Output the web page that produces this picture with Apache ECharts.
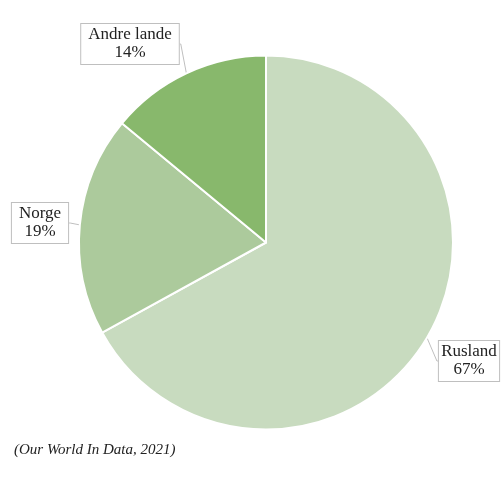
<!DOCTYPE html>
<html>
<head>
<meta charset="utf-8">
<script src="https://cdn.jsdelivr.net/npm/echarts@6/dist/echarts.min.js"></script>
<style>
html,body{margin:0;padding:0;background:#fff;}
#chart{width:504px;height:487px;}
</style>
</head>
<body>
<div id="chart"></div>
<script>
var categories = ['Rusland', 'Norge', 'Andre lande'];
var values = [67, 19, 14];
var colors = ['#c8dbbf', '#acca9c', '#88b86c'];
var sourceText = '(Our World In Data, 2021)';

var labelPos = [
  {x: 469, y: 361},
  {x: 40, y: 223},
  {x: 130, y: 44}
];

var chart = echarts.init(document.getElementById('chart'));
chart.setOption({
  animation: false,
  graphic: [{
    type: 'text',
    left: 14,
    top: 443,
    style: {
      text: sourceText,
      font: 'italic 15px "Liberation Serif"',
      fill: '#222'
    }
  }],
  series: [{
    type: 'pie',
    center: [266, 242.5],
    radius: [0, 187],
    startAngle: 90,
    clockwise: true,
    bleedMargin: 0,
    data: categories.map(function (c, i) {
      return {name: c, value: values[i], itemStyle: {color: colors[i]}};
    }),
    itemStyle: {borderColor: '#fff', borderWidth: 2},
    label: {
      show: true,
      formatter: '{b}\n{c}%',
      fontFamily: 'Liberation Serif',
      fontSize: 17,
      lineHeight: 18,
      color: '#222',
      align: 'center',
      overflow: 'none',
      backgroundColor: '#fff',
      borderColor: '#bfbfbf',
      borderWidth: 1,
      padding: [2, 7]
    },
    labelLine: {
      show: true,
      length: 1,
      length2: 1,
      lineStyle: {color: '#bfbfbf', width: 1}
    },
    labelLayout: function (p) {
      var pos = labelPos[p.dataIndex];
      return {x: pos.x, y: pos.y, align: 'center', verticalAlign: 'middle'};
    },
    emphasis: {disabled: true}
  }]
});
</script>
</body>
</html>
